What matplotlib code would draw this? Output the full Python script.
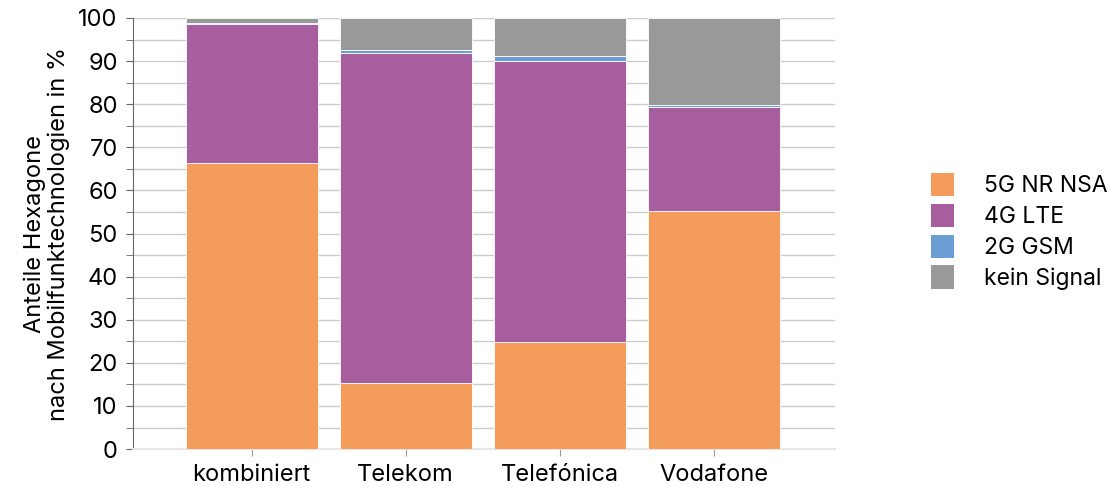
import numpy as np
import matplotlib.pyplot as plt
from matplotlib.patches import Patch

# Daten
anbieter = ['kombiniert', 'Telekom', 'Telefónica', 'Vodafone']
nr5g = [66.4, 15.3, 24.8, 55.2]
lte4g = [32.1, 76.6, 65.3, 24.2]
gsm2g = [0.4, 0.7, 1.1, 0.3]
kein_signal = [1.1, 7.4, 8.8, 20.3]

reihen = ['5G NR NSA', '4G LTE', '2G GSM', 'kein Signal']
farben = ['#F49C5C', '#A75E9F', '#6A9ED5', '#999999']

plt.rcParams['font.family'] = ['Inter', 'DejaVu Sans']

def main():
  fig = plt.figure(figsize=(11.13, 4.86), dpi=100)
  ax = fig.add_axes([0.1195, 0.076, 0.631, 0.887])

  x = np.arange(len(anbieter))
  unten = np.zeros(len(anbieter))
  for werte, farbe in zip([nr5g, lte4g, gsm2g, kein_signal], farben):
    ax.bar(x, werte, width=0.857, bottom=unten, color=farbe,
           edgecolor='white', linewidth=0.6, zorder=3)
    unten += np.array(werte)

  ax.set_xlim(-0.77, 3.79)
  ax.set_ylim(0, 100)
  ax.set_xticks(x)
  ax.set_xticklabels(anbieter)
  ax.set_yticks(np.arange(0, 101, 10))
  ax.set_yticks(np.arange(5, 100, 10), minor=True)
  ax.grid(True, which='both', axis='y', color='#cccccc', linewidth=1.0, zorder=0)

  for s in ['top', 'right']:
    ax.spines[s].set_visible(False)
  ax.spines['left'].set_color('#666666')
  ax.spines['bottom'].set_color('#e6e6e6')
  ax.spines['bottom'].set_linewidth(1.5)

  ax.tick_params(axis='y', which='major', length=5, color='#666666', labelsize=17, pad=6)
  ax.tick_params(axis='y', which='minor', length=5, color='#666666')
  ax.tick_params(axis='x', length=5, color='#999999', labelsize=17, pad=6)

  ax.set_ylabel('Anteile Hexagone\nnach Mobilfunktechnologien in %', fontsize=17,
                linespacing=1.1, labelpad=6)

  handles = [Patch(facecolor=f, edgecolor='none') for f in farben]
  fig.legend(handles, reihen, loc='center left', bbox_to_anchor=(0.818, 0.524),
             frameon=False, fontsize=16.5, handlelength=1.0, handleheight=1.2,
             handletextpad=1.3, labelspacing=0.28)

  fig.savefig('out.png', dpi=100)

if __name__ == "__main__":
  main()
